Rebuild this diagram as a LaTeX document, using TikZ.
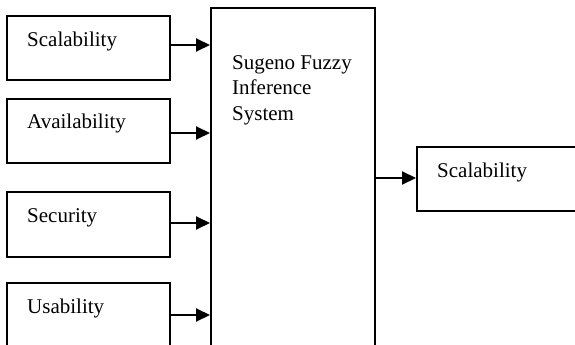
\documentclass[tikz,border=0pt]{standalone}
\usepackage{fontspec}
\setmainfont{Liberation Serif}
\usetikzlibrary{arrows.meta}
\begin{document}
\begin{tikzpicture}[x=1pt,y=-1pt,
  box/.style={draw=black,line width=2pt,anchor=north west,inner sep=0pt,fill=none},
  lbl/.style={anchor=base west,inner sep=0pt,font=\fontsize{21}{25.5}\selectfont},
  arr/.style={line width=2pt,-{Triangle[length=14pt,width=13pt]}}]
  \clip (0,0) rectangle (575,345);
  % input boxes
  \node[box,minimum width=163pt,minimum height=64pt] (b1) at (6,15) {};
  \node[box,minimum width=163pt,minimum height=64pt] (b2) at (6,98) {};
  \node[box,minimum width=163pt,minimum height=65pt] (b3) at (6,191) {};
  \node[box,minimum width=163pt,minimum height=80pt] (b4) at (6,282) {};
  % inference system and output
  \node[box,minimum width=164pt,minimum height=360pt] (sys) at (210,7) {};
  \node[box,minimum width=180pt,minimum height=64pt] (out) at (416,146) {};
  % labels
  \node[lbl] (t1) at (27,47) {Scalability};
  \node[lbl] (t2) at (27,128) {Availability};
  \node[lbl] (t3) at (27,222) {Security};
  \node[lbl] (t4) at (27,313) {Usability};
  \node[lbl,align=left] (ts) at (232,120) {Sugeno Fuzzy\\Inference\\System};
  \node[lbl] (to) at (437,177) {Scalability};
  % connectors
  \coordinate (a1) at ([yshift=3pt]b1.east);
  \coordinate (a2) at ([yshift=-2pt]b2.east);
  \coordinate (a3) at ([yshift=1.5pt]b3.east);
  \coordinate (a4) at ([yshift=8pt]b4.east);
  \coordinate (a5) at ([yshift=1pt]sys.east |- out.west);
  \draw[arr] (a1) -- (a1 -| sys.west);
  \draw[arr] (a2) -- (a2 -| sys.west);
  \draw[arr] (a3) -- (a3 -| sys.west);
  \draw[arr] (a4) -- (a4 -| sys.west);
  \draw[arr] (a5) -- (a5 -| out.west);
\end{tikzpicture}
\end{document}
